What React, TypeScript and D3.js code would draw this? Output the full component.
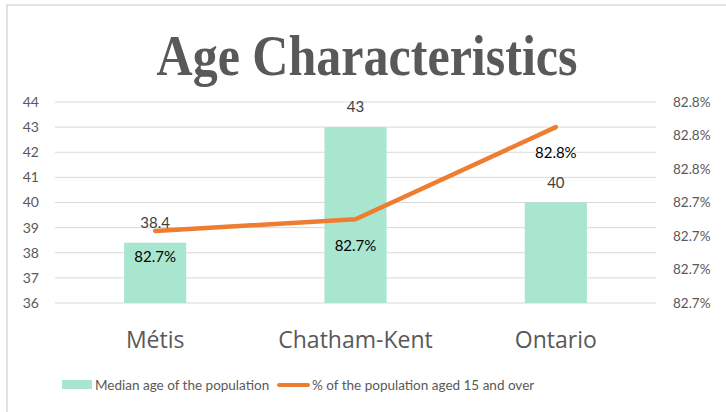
import React from "react";
import * as d3 from "d3";

const categories = ["Métis", "Chatham-Kent", "Ontario"];
const medianAge = [38.4, 43, 40];
const pctAged15Plus = [0.82713, 0.8272, 0.82775];
const leftTicks = [36, 37, 38, 39, 40, 41, 42, 43, 44];
const rightTicks = [0.8267, 0.8269, 0.8271, 0.8273, 0.8275, 0.8277, 0.8279];
const seriesNames = ["Median age of the population", "% of the population aged 15 and over"];
const title = "Age Characteristics";

const W = 726, H = 412;
const plotL = 55, plotR = 656, plotT = 102, plotB = 303;
const BAR = "#A8E6CF";
const LINE = "#ED7D31";
const GRID = "#D9D9D9";
const TXT = "#595959";
const FONT = "Lato, 'Open Sans', sans-serif";

export default function App() {
  const x = d3.scaleBand<string>().domain(categories).range([plotL, plotR]);
  const yL = d3.scaleLinear().domain([36, 44]).range([plotB, plotT]);
  const yR = d3.scaleLinear().domain([0.8267, 0.8279]).range([plotB, plotT]);
  const bw = x.bandwidth() * 0.31;
  const cx = (c: string) => (x(c) as number) + x.bandwidth() / 2;
  const pctFmt = (v: number) => (Math.round(v * 1000 + 1e-6) / 10).toFixed(1) + "%";
  const line = d3
    .line<number>()
    .x((_, i) => cx(categories[i]))
    .y((d) => yR(d));

  return (
    <svg width={W} height={H} style={{ position: "absolute", left: 0, top: 0, background: "#fff" }} fontFamily={FONT}>
      <rect x={7} y={5} width={W + 20} height={H + 20} fill="#fff" stroke={GRID} strokeWidth={1.5} />
      <text x={367} y={75} textAnchor="middle" fontFamily="'Liberation Serif', serif" fontWeight="bold" fontSize={56} fill={TXT} textLength={421} lengthAdjust="spacingAndGlyphs">
        {title}
      </text>
      {leftTicks.map((t) => (
        <g key={t}>
          <line x1={plotL} x2={plotR} y1={yL(t)} y2={yL(t)} stroke={GRID} strokeWidth={1} />
          <text x={39} y={yL(t)} dy="0.35em" textAnchor="end" fontSize={14} fill={TXT}>
            {t}
          </text>
        </g>
      ))}
      {rightTicks.map((t, i) => (
        <text key={i} x={673} y={yR(t)} dy="0.35em" textAnchor="start" fontSize={13.5} fill={TXT}>
          {pctFmt(t)}
        </text>
      ))}
      {categories.map((c, i) => (
        <g key={c}>
          <rect x={cx(c) - bw / 2} y={yL(medianAge[i])} width={bw} height={plotB - yL(medianAge[i])} fill={BAR} />
          <text x={cx(c)} y={yL(medianAge[i]) - 20} dy="0.35em" textAnchor="middle" fontSize={15} fill="#404040">
            {medianAge[i]}
          </text>
          <text x={cx(c)} y={340} dy="0.35em" textAnchor="middle" fontFamily="'Open Sans', sans-serif" fontSize={23} fill={TXT}>
            {c}
          </text>
        </g>
      ))}
      <path d={line(pctAged15Plus) || ""} fill="none" stroke={LINE} strokeWidth={4.5} strokeLinecap="round" strokeLinejoin="round" />
      {categories.map((c, i) => (
        <text key={c} x={cx(c)} y={yR(pctAged15Plus[i]) + 26} dy="0.35em" textAnchor="middle" fontSize={15} fill="#000">
          {pctFmt(pctAged15Plus[i])}
        </text>
      ))}
      <rect x={62} y={380} width={30} height={9} fill={BAR} />
      <text x={95} y={385} dy="0.35em" fontSize={13.5} fill={TXT}>
        {seriesNames[0]}
      </text>
      <line x1={279} x2={308} y1={385} y2={385} stroke={LINE} strokeWidth={4} strokeLinecap="round" />
      <text x={312} y={385} dy="0.35em" fontSize={13.5} fill={TXT}>
        {seriesNames[1]}
      </text>
    </svg>
  );
}
